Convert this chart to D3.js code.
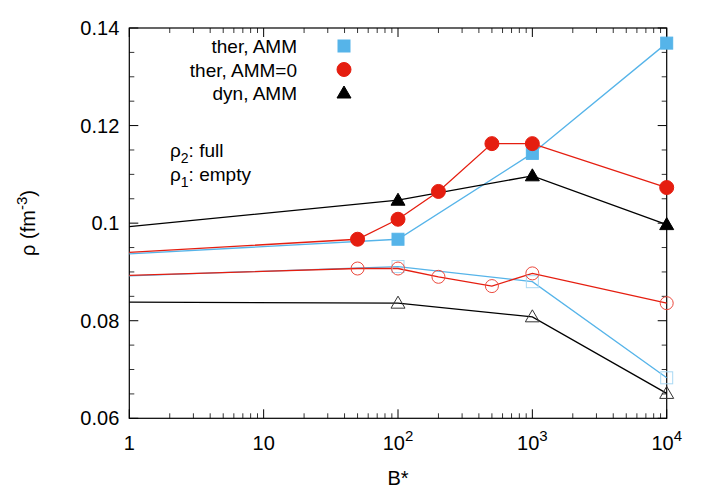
<!DOCTYPE html>
<html><head><meta charset="utf-8">
<script src="https://cdn.jsdelivr.net/npm/d3@7"></script>
<style>body{margin:0;background:#fff}text{font-family:"Liberation Sans",Arial,sans-serif}</style>
</head><body><svg id="c" width="706" height="494"></svg>
<script>
const xTicks=[1,10,100,1000,10000];
const yTicks=[0.06,0.08,0.1,0.12,0.14];
const therAMMFullX=[1,100,1000,10000];
const therAMMFull=[0.0937,0.0967,0.1143,0.1369];
const ther0FullX=[1,50,100,200,500,1000,10000];
const ther0Full=[0.0940,0.0967,0.1008,0.1065,0.1163,0.1163,0.1073];
const dynFullX=[1,100,1000,10000];
const dynFull=[0.0993,0.1047,0.1097,0.0997];
const therAMMEmptyX=[1,100,1000,10000];
const therAMMEmpty=[0.0892,0.0911,0.0880,0.0683];
const ther0EmptyX=[1,50,100,200,500,1000,10000];
const ther0Empty=[0.0893,0.0907,0.0907,0.0890,0.0871,0.0897,0.0836];
const dynEmptyX=[1,100,1000,10000];
const dynEmpty=[0.0838,0.0836,0.0808,0.0651];
const markX=[[100,1000,10000],[50,100,200,500,1000,10000],[100,1000,10000]];

const svg=d3.select("#c");
const L=129.3,R=666.7,T=28,B=418.3;
const x=d3.scaleLog().domain([1,10000]).range([L,R]);
const y=d3.scaleLinear().domain([0.06,0.14]).range([B,T]);
const blue="#56b4e9",red="#e51e10";
// minor ticks
const minor=[];for(let d=1;d<10000;d*=10)for(let k=2;k<10;k++)minor.push(d*k);
const g=svg.append("g");
minor.forEach(v=>{[[B,B-5],[T,T+5]].forEach(p=>g.append("line").attr("x1",x(v)).attr("x2",x(v)).attr("y1",p[0]).attr("y2",p[1]).attr("stroke","#000").attr("stroke-width",0.8));});
xTicks.forEach(v=>{[[B,B-9],[T,T+9]].forEach(p=>g.append("line").attr("x1",x(v)).attr("x2",x(v)).attr("y1",p[0]).attr("y2",p[1]).attr("stroke","#000"));});
d3.range(0.06,0.1401,0.005).forEach(v=>{const big=Math.abs(v*50-Math.round(v*50))<1e-6;const l=big?9:5;
[[L,L+l],[R,R-l]].forEach(p=>g.append("line").attr("y1",y(v)).attr("y2",y(v)).attr("x1",p[0]).attr("x2",p[1]).attr("stroke","#000").attr("stroke-width",big?1:0.8));});
yTicks.forEach(v=>g.append("text").attr("x",L-10).attr("y",y(v)+7).attr("text-anchor","end").attr("font-size",20).text(v));
xTicks.forEach((v,i)=>{const t=g.append("text").attr("x",x(v)).attr("y",B+32).attr("text-anchor","middle").attr("font-size",20);
if(i<2)t.text(v);else{t.append("tspan").text("10");t.append("tspan").attr("dy",-9).attr("font-size",15).text(i);}});
svg.append("rect").attr("x",L).attr("y",T).attr("width",R-L).attr("height",B-T).attr("fill","none").attr("stroke","#000").attr("stroke-width",1.2);
svg.append("text").attr("x",x(100)).attr("y",485).attr("text-anchor","middle").attr("font-size",20).text("B*");
const yl=svg.append("text").attr("transform","translate(35,223) rotate(-90)").attr("text-anchor","middle").attr("font-size",20);
yl.append("tspan").text("ρ (fm");yl.append("tspan").attr("dy",-8).attr("font-size",15).text("-3");yl.append("tspan").attr("dy",8).text(")");

const line=d3.line().x(d=>x(d[0])).y(d=>y(d[1]));
function series(xs,ys,col){svg.append("path").attr("d",line(xs.map((v,i)=>[v,ys[i]]))).attr("fill","none").attr("stroke",col).attr("stroke-width",1.3);}
function marker(type,cx,cy,col,filled){
 if(type==="sq")svg.append("rect").attr("x",cx-6).attr("y",cy-6).attr("width",12).attr("height",12).attr("fill",filled?col:"none").attr("stroke",col).attr("stroke-width",1);
 else if(type==="ci")svg.append("circle").attr("cx",cx).attr("cy",cy).attr("r",filled?7:6.5).attr("fill",filled?col:"none").attr("stroke",col).attr("stroke-width",1);
 else svg.append("path").attr("d",`M${cx},${cy-7}L${cx+7},${cy+5}L${cx-7},${cy+5}Z`).attr("fill",filled?col:"none").attr("stroke",col).attr("stroke-width",1);}
const defs=[[therAMMFullX,therAMMFull,blue,"sq",true,markX[0]],[ther0FullX,ther0Full,red,"ci",true,markX[1]],[dynFullX,dynFull,"#000","tr",true,markX[2]],
[therAMMEmptyX,therAMMEmpty,blue,"sq",false,markX[0]],[ther0EmptyX,ther0Empty,red,"ci",false,markX[1]],[dynEmptyX,dynEmpty,"#000","tr",false,markX[2]]];
defs.forEach(d=>series(d[0],d[1],d[2]));
defs.forEach(d=>{const mc=d[4]?d[2]:(d[2]===blue?"#a9d9f4":d[2]===red?"#ec4a3e":"#333");
d[0].forEach((v,i)=>{if(d[5].includes(v))marker(d[3],x(v),y(d[1][i]),mc,d[4]);});});
// legend
const leg=[["ther, AMM",blue,"sq"],["ther, AMM=0",red,"ci"],["dyn, AMM","#000","tr"]];
leg.forEach((l,i)=>{const yy=46+i*23.5;svg.append("text").attr("x",297).attr("y",yy+7).attr("text-anchor","end").attr("font-size",19).text(l[0]);marker(l[2],344,yy,l[1],true);});
[["2",": full",157],["1",": empty",181]].forEach(a=>{const t=svg.append("text").attr("x",170).attr("y",a[2]).attr("font-size",19);
t.append("tspan").text("ρ");t.append("tspan").attr("dy",6).attr("font-size",14).text(a[0]);t.append("tspan").attr("dy",-6).text(a[1]);});
</script></body></html>
